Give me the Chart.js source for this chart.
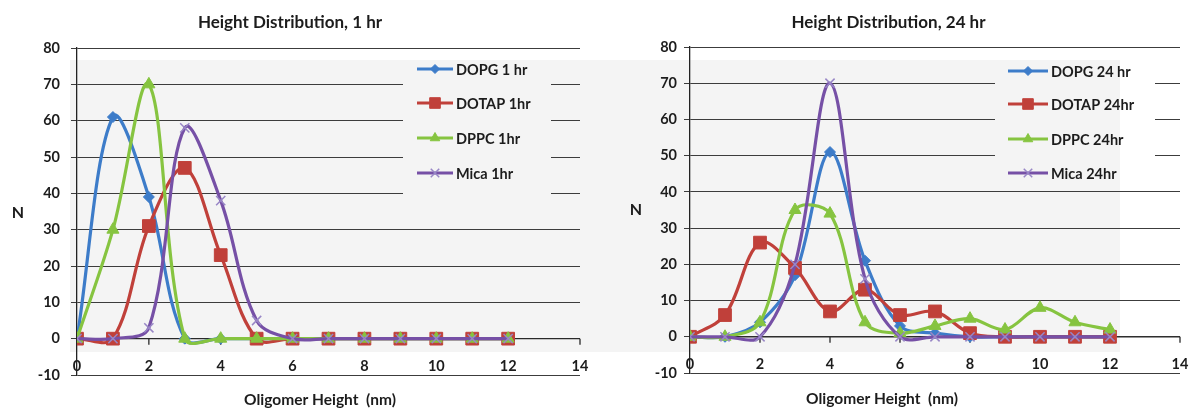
<!DOCTYPE html>
<html>
<head>
<meta charset="utf-8">
<title>Height Distribution</title>
<script src="https://cdn.jsdelivr.net/npm/chart.js@4.4.1/dist/chart.umd.min.js"></script>
<style>
  body { margin: 0; width: 1194px; height: 410px; background: #fff; position: relative; overflow: hidden; }
  .band { position: absolute; left: 70px; top: 60px; width: 1050px; height: 292px; background: #f4f4f4; }
  .panel { position: absolute; top: 0; width: 597px; height: 410px; }
</style>
</head>
<body>
<div class="band"></div>
<div class="panel" style="left:0"><canvas id="chart1h"></canvas></div>
<div class="panel" style="left:597px"><canvas id="chart24h"></canvas></div>
<script>
// oligomer heights (nm) shared by every series
const heights = [0, 1, 2, 3, 4, 5, 6, 7, 8, 9, 10, 11, 12]

const names1h = ['DOPG 1 hr', 'DOTAP 1hr', 'DPPC 1hr', 'Mica 1hr']
const dopg1h = [0, 61, 39, 0, 0, 0, 0, 0, 0, 0, 0, 0, 0]
const dotap1h = [0, 0, 31, 47, 23, 0, 0, 0, 0, 0, 0, 0, 0]
const dppc1h = [0, 30, 70, 0, 0, 0, 0, 0, 0, 0, 0, 0, 0]
const mica1h = [0, 0, 3, 58, 38, 5, 0, 0, 0, 0, 0, 0, 0]

const names24h = ['DOPG 24 hr', 'DOTAP 24hr', 'DPPC 24hr', 'Mica 24hr']
const dopg24h = [0, 0, 4, 17, 51, 21, 3, 1, 0, 0, 0, 0, 0]
const dotap24h = [0, 6, 26, 19, 7, 13, 6, 7, 1, 0, 0, 0, 0]
const dppc24h = [0, 0, 4, 35, 34, 4, 1, 3, 5, 2, 8, 4, 2]
const mica24h = [0, 0, 0, 20, 70, 16, 0, 0, 0, 0, 0, 0, 0]

const xTickValues = [0, 2, 4, 6, 8, 10, 12, 14]
const yTickValues = [-10, 0, 10, 20, 30, 40, 50, 60, 70, 80]

const seriesStyles = [
  { color: '#3d7cc9', point: 'rectRot', radius: 5.5, legendRadius: 4.5 },
  { color: '#c0403a', point: 'rect', radius: 9, legendRadius: 7.5 },
  { color: '#86c440', point: 'triangle', radius: 7, legendRadius: 5.5 },
  { color: '#7650a6', point: 'crossRot', radius: 6.5, legendRadius: 6, pointColor: '#9886c6' }
]

const FONT = 'Lato, "Open Sans", sans-serif'
const TEXT = '#1c1c1c'

function makeDatasets (names, series) {
  return series.map((values, i) => {
    const s = seriesStyles[i]
    return {
      label: names[i],
      data: heights.map((h, j) => ({ x: h, y: values[j] })),
      borderColor: s.color,
      backgroundColor: s.color,
      borderWidth: 3.2,
      tension: 0.35,
      pointStyle: s.point,
      pointRadius: s.radius,
      pointHoverRadius: s.radius,
      pointBackgroundColor: s.pointColor || s.color,
      pointBorderColor: s.pointColor || s.color,
      pointBorderWidth: s.point === 'crossRot' ? 1.5 : 1,
      order: series.length - i
    }
  })
}

// horizontal axis line crossing at N = 0, with outside tick marks
const zeroAxis = {
  id: 'zeroAxis',
  beforeDatasetsDraw (chart) {
    const { ctx, scales: { x, y } } = chart
    const py = y.getPixelForValue(0)
    ctx.save()
    ctx.strokeStyle = '#2a2a2a'
    ctx.lineWidth = 1.3
    ctx.beginPath()
    ctx.moveTo(x.getPixelForValue(0), py)
    ctx.lineTo(x.getPixelForValue(14), py)
    xTickValues.forEach(v => {
      const px = x.getPixelForValue(v)
      ctx.moveTo(px, py)
      ctx.lineTo(px, py + 6)
    })
    ctx.stroke()
    ctx.restore()
  }
}

// upright "N" and the horizontal axis caption
const axisText = {
  id: 'axisText',
  afterDraw (chart, args, opts) {
    const ctx = chart.ctx
    ctx.save()
    ctx.fillStyle = TEXT
    ctx.textAlign = 'center'
    ctx.textBaseline = 'middle'
    ctx.font = 'bold 16px ' + FONT
    ctx.fillText('N', opts.n[0], opts.n[1])
    ctx.font = 'bold 15.5px ' + FONT
    ctx.fillText('Oligomer Height  (nm)', opts.title[0], opts.title[1])
    ctx.restore()
  }
}

// legend with a line sample and marker for each series
const lineLegend = {
  id: 'lineLegend',
  afterDraw (chart, args, opts) {
    const ctx = chart.ctx
    const b = opts.box
    ctx.save()
    ctx.clearRect(b[0], b[1], b[2] - b[0], b[3] - b[1])
    ctx.font = 'bold 14.5px ' + FONT
    ctx.textBaseline = 'middle'
    ctx.textAlign = 'left'
    chart.data.datasets.forEach((ds, i) => {
      const s = seriesStyles[i]
      const y = opts.rows[i]
      ctx.strokeStyle = s.color
      ctx.lineWidth = 3
      ctx.beginPath()
      ctx.moveTo(opts.x, y)
      ctx.lineTo(opts.x + opts.len, y)
      ctx.stroke()
      if (Chart.helpers && Chart.helpers.drawPoint) {
        ctx.fillStyle = s.pointColor || s.color
        ctx.strokeStyle = s.pointColor || s.color
        ctx.lineWidth = s.point === 'crossRot' ? 1.5 : 1
        Chart.helpers.drawPoint(ctx, {
          pointStyle: s.point,
          radius: s.legendRadius,
          rotation: 0,
          borderWidth: ctx.lineWidth
        }, opts.x + opts.len / 2, y)
      }
      ctx.fillStyle = TEXT
      ctx.fillText(ds.label, opts.x + opts.len + 3, y + 1)
    })
    ctx.restore()
  }
}

function makeChart (canvasId, title, names, series, geo) {
  const tickFont = { family: FONT, size: 14.5, weight: 'bold' }
  new Chart(document.getElementById(canvasId), {
    type: 'line',
    data: { datasets: makeDatasets(names, series) },
    plugins: [zeroAxis, axisText, lineLegend],
    options: {
      responsive: true,
      maintainAspectRatio: false,
      animation: false,
      layout: { padding: { left: 0, right: geo.padRight, top: 0, bottom: 0 } },
      scales: {
        x: {
          type: 'linear',
          min: 0,
          max: 14,
          afterBuildTicks: axis => { axis.ticks = xTickValues.map(v => ({ value: v })) },
          afterFit: axis => { axis.height = geo.xHeight },
          grid: { display: false },
          border: { display: false },
          // labels sit just above the bottom (-10) grid line
          ticks: { mirror: true, padding: 0, font: tickFont, color: TEXT, maxRotation: 0, autoSkip: false }
        },
        y: {
          min: -10,
          max: 80,
          afterBuildTicks: axis => { axis.ticks = yTickValues.map(v => ({ value: v })) },
          afterFit: axis => { axis.width = geo.yWidth },
          grid: { color: '#3c3c3c', lineWidth: 1, tickLength: 6 },
          border: { display: true, color: '#222', width: 1.3 },
          ticks: { padding: geo.yPad, font: tickFont, color: TEXT }
        }
      },
      plugins: {
        legend: { display: false },
        tooltip: { enabled: false },
        title: {
          display: true,
          text: title,
          color: TEXT,
          font: { family: FONT, size: 17, weight: 'bold' },
          padding: { top: 12, bottom: geo.titleGap }
        },
        axisText: { n: geo.n, title: geo.caption },
        lineLegend: geo.legend
      }
    }
  })
}

document.addEventListener('DOMContentLoaded', () => {
  makeChart('chart1h', 'Height Distribution, 1 hr', names1h,
    [dopg1h, dotap1h, dppc1h, mica1h], {
      padRight: 17,
      xHeight: 35,
      yWidth: 77,
      yPad: 11,
      titleGap: 15.6,
      n: [18, 213],
      caption: [320, 400],
      legend: { box: [403, 53, 551, 206], x: 417, len: 36, rows: [69, 103, 138, 173] }
    })

  makeChart('chart24h', 'Height Distribution, 24 hr', names24h,
    [dopg24h, dotap24h, dppc24h, mica24h], {
      padRight: 14,
      xHeight: 37,
      yWidth: 93,
      yPad: 7,
      titleGap: 14.6,
      n: [39, 210],
      caption: [285, 399],
      legend: { box: [398, 53, 558, 188], x: 411, len: 40, rows: [71, 104, 139, 173] }
    })
})
</script>
</body>
</html>
